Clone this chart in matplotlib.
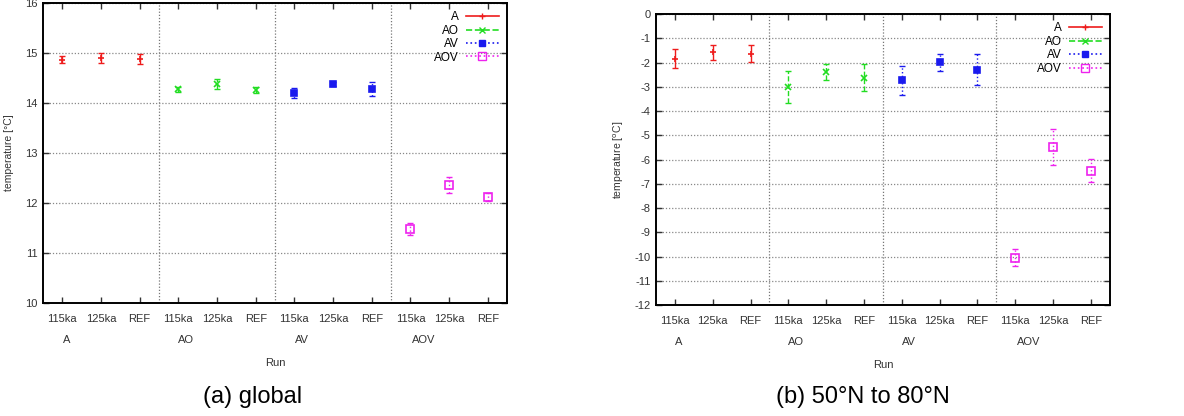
import matplotlib
matplotlib.use("Agg")
import matplotlib.pyplot as plt
from matplotlib.lines import Line2D
import numpy as np

plt.rcParams['font.family'] = ['Liberation Sans', 'DejaVu Sans']
plt.rcParams['axes.unicode_minus'] = False

runs = ["A", "AO", "AV", "AOV"]
ticklabels = ["115ka", "125ka", "REF"] * 4
group_pos = [1.1, 4.2, 7.2, 10.35]

# global mean temperature and error per run (115ka, 125ka, REF)
glob_mean = {
    "A":   [14.87, 14.91, 14.89],
    "AO":  [14.28, 14.38, 14.27],
    "AV":  [14.20, 14.39, 14.28],
    "AOV": [11.48, 12.37, 12.12],
}
glob_err = {
    "A":   [0.07, 0.10, 0.10],
    "AO":  [0.05, 0.10, 0.06],
    "AV":  [0.10, 0.04, 0.14],
    "AOV": [0.12, 0.16, 0.08],
}

# 50N to 80N
nh_mean = {
    "A":   [-1.84, -1.57, -1.63],
    "AO":  [-3.01, -2.39, -2.62],
    "AV":  [-2.73, -1.98, -2.29],
    "AOV": [-10.05, -5.48, -6.46],
}
nh_err = {
    "A":   [0.39, 0.30, 0.36],
    "AO":  [0.66, 0.33, 0.56],
    "AV":  [0.60, 0.35, 0.64],
    "AOV": [0.36, 0.73, 0.48],
}

styles = {
    "A":   dict(color="#ee1c1c", marker="+", ls="-", mfc="none", ms=5),
    "AO":  dict(color="#22dd22", marker="x", ls="--", mfc="none", ms=5),
    "AV":  dict(color="#1a1aee", marker="s", ls=":", mfc="#1a1aee", ms=4.5),
    "AOV": dict(color="#ee22ee", marker="s", ls=":", mfc="none", ms=6),
}


def draw_panel(ax, means, errs, ylim, yticks, ylabel, labelpad):
    for i, run in enumerate(runs):
        st = styles[run]
        x = np.arange(1, 4) + 3 * i
        eb = ax.errorbar(x, means[run], yerr=errs[run], fmt="none",
                         ecolor=st["color"], elinewidth=1.0, capsize=2.5,
                         capthick=1.0)
        for c in eb[2]:
            c.set_linestyle(st["ls"])
        ax.plot(x, means[run], linestyle="none", marker=st["marker"],
                color=st["color"], mfc=st["mfc"], ms=st["ms"], mew=1.2)
    for xv in [3.5, 6.5, 9.5]:
        ax.axvline(xv, color="#777777", lw=0.9, ls=(0, (1, 1.5)))
    ax.set_xlim(0.5, 12.5)
    ax.set_ylim(*ylim)
    ax.set_yticks(yticks)
    ax.yaxis.grid(True, color="#888888", lw=0.9, ls=(0, (1, 1.5)))
    ax.set_xticks(np.arange(1, 13))
    ax.set_xticklabels(ticklabels)
    ax.tick_params(direction="in", top=True, right=True, labelsize=8,
                   colors="#333333", length=4, width=1.0, pad=8)
    ax.tick_params(axis="y", pad=4)
    for s in ax.spines.values():
        s.set_linewidth(1.4)
    ax.set_ylabel(ylabel, fontsize=7.5, color="#333333", labelpad=labelpad)
    for pos, run in zip(group_pos, runs):
        ax.annotate(run, xy=(pos, 0), xycoords=("data", "axes fraction"),
                    xytext=(0, -37), textcoords="offset pixels",
                    ha="center", va="center", fontsize=8, color="#333333")
    ax.annotate("Run", xy=(0.5, 0), xycoords="axes fraction",
                xytext=(0, -60), textcoords="offset pixels",
                ha="center", va="center", fontsize=8, color="#333333")
    handles = [Line2D([], [], color=styles[r]["color"], ls=styles[r]["ls"],
                      marker=styles[r]["marker"], mfc=styles[r]["mfc"],
                      ms=styles[r]["ms"], lw=1.2) for r in runs]
    ax.legend(handles, runs, loc="upper right", frameon=False,
              markerfirst=False, fontsize=8.5, handlelength=2.8,
              labelspacing=0.12, borderaxespad=0.3, handletextpad=0.6)


fig = plt.figure(figsize=(11.84, 4.16), dpi=100)
ax1 = fig.add_axes([0.0363, 0.2716, 0.392, 0.721])
ax2 = fig.add_axes([0.554, 0.2668, 0.3834, 0.699])

draw_panel(ax1, glob_mean, glob_err, (10, 16), np.arange(10, 17),
           "temperature [°C]", 8)
draw_panel(ax2, nh_mean, nh_err, (-12, 0), np.arange(-12, 1),
           "temperature [$^{\\rm o}$C]", 6)

fig.text(0.213, 0.045, "(a) global", ha="center", va="center", fontsize=17)
fig.text(0.729, 0.045, "(b) 50°N to 80°N", ha="center", va="center",
         fontsize=17)

fig.savefig("out.png", dpi=100)
